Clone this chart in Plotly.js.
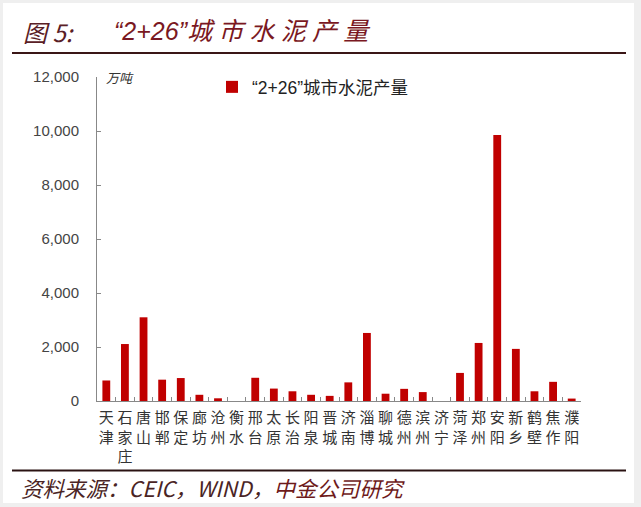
<!DOCTYPE html>
<html>
<head>
<meta charset="utf-8">
<script src="https://cdn.plot.ly/plotly-3.0.1.min.js"></script>
<style>
html,body{margin:0;padding:0;background:#efefef;width:641px;height:507px;overflow:hidden;}
#chart{position:absolute;left:3px;top:3px;width:631px;height:500px;}
</style>
</head>
<body>
<div id="chart"></div>
<script>
const cities = ["天津","石家庄","唐山","邯郸","保定","廊坊","沧州","衡水","邢台","太原","长治","阳泉","晋城","济南","淄博","聊城","德州","滨州","济宁","菏泽","郑州","安阳","新乡","鹤壁","焦作","濮阳"];
const output = [760,2110,3100,790,850,230,100,0,860,460,360,230,190,690,2520,270,450,330,0,1040,2150,9850,1930,360,710,90];
const seriesName = "“2+26”城市水泥产量";
const yTicks = [0,2000,4000,6000,8000,10000,12000];
const yTickText = ["0","2,000","4,000","6,000","8,000","10,000","12,000"];

const W = 631, H = 500;
const L = 94, R = 53, T = 74, B = 101.5;
const pw = W - L - R, ph = H - T - B;
const px = x => (x - 3 - L) / pw;
const py = y => (H - B - (y - 3)) / ph;

const cjk = '"Noto Sans CJK SC", "Liberation Sans", sans-serif';
const mixed = '"Liberation Sans", "Noto Sans CJK SC", sans-serif';
const tickText = cities.map(c => c.split('').join('<br>'));

const trace = {
  type: 'bar',
  x: cities,
  y: output,
  name: seriesName,
  marker: {color: '#c00000', line: {color: '#8b0000', width: 0}},
  hoverinfo: 'x+y'
};

const sp = '\u2005';
const layout = {
  width: W, height: H,
  margin: {l: L, r: R, t: T, b: B},
  paper_bgcolor: '#ffffff',
  plot_bgcolor: '#ffffff',
  bargap: 0.58,
  showlegend: true,
  legend: {
    x: px(212), y: py(87), xanchor: 'left', yanchor: 'middle',
    font: {family: mixed, size: 17.5, color: '#222'},
    bgcolor: 'rgba(0,0,0,0)', itemwidth: 30
  },
  xaxis: {
    type: 'category',
    tickvals: cities, ticktext: tickText,
    tickson: 'boundaries', tickangle: 0,
    ticks: 'inside', ticklen: 4, tickcolor: '#888',
    showline: true, linecolor: '#888', linewidth: 1,
    showgrid: false, zeroline: false,
    tickfont: {family: cjk, size: 15, color: '#333'},
    ticklabelstandoff: 3,
    range: [-0.5, cities.length - 0.5]
  },
  yaxis: {
    range: [0, 12000],
    tickvals: yTicks, ticktext: yTickText,
    ticks: 'inside', ticklen: 4, tickcolor: '#888',
    showline: true, linecolor: '#888', linewidth: 1,
    showgrid: false, zeroline: false,
    tickfont: {family: '"Liberation Sans", Arial, sans-serif', size: 15, color: '#444'},
    ticklabelstandoff: 14
  },
  shapes: [
    {type: 'line', xref: 'paper', yref: 'paper', x0: px(12), x1: px(626), y0: py(53), y1: py(53), line: {color: '#3a1616', width: 2}},
    {type: 'line', xref: 'paper', yref: 'paper', x0: px(12), x1: px(626), y0: py(471), y1: py(471), line: {color: '#2a1212', width: 2}}
  ],
  annotations: [
    {xref: 'paper', yref: 'paper', x: px(21), y: py(31), xanchor: 'left', yanchor: 'middle', showarrow: false,
     text: '<i>图 5:</i>', font: {family: cjk, size: 24, color: '#5a2026'}},
    {xref: 'paper', yref: 'paper', x: px(112), y: py(31), xanchor: 'left', yanchor: 'middle', showarrow: false,
     text: '<i>“2+26”' + '城' + sp + '市' + sp + '水' + sp + '泥' + sp + '产' + sp + '量</i>', font: {family: mixed, size: 25, color: '#7a1822'}},
    {xref: 'paper', yref: 'paper', x: px(104), y: py(78), xanchor: 'left', yanchor: 'middle', showarrow: false,
     text: '<i>万吨</i>', font: {family: cjk, size: 13, color: '#333'}},
    {xref: 'paper', yref: 'paper', x: px(19), y: py(488), xanchor: 'left', yanchor: 'middle', showarrow: false,
     text: '<i>资料来源：CEIC，WIND，<span style="color:#6e1a1a">中金公司研究</span></i>', font: {family: cjk, size: 21.5, color: '#4a2424'}}
  ]
};

Plotly.newPlot('chart', [trace], layout, {displayModeBar: false, staticPlot: true});
</script>
</body>
</html>
